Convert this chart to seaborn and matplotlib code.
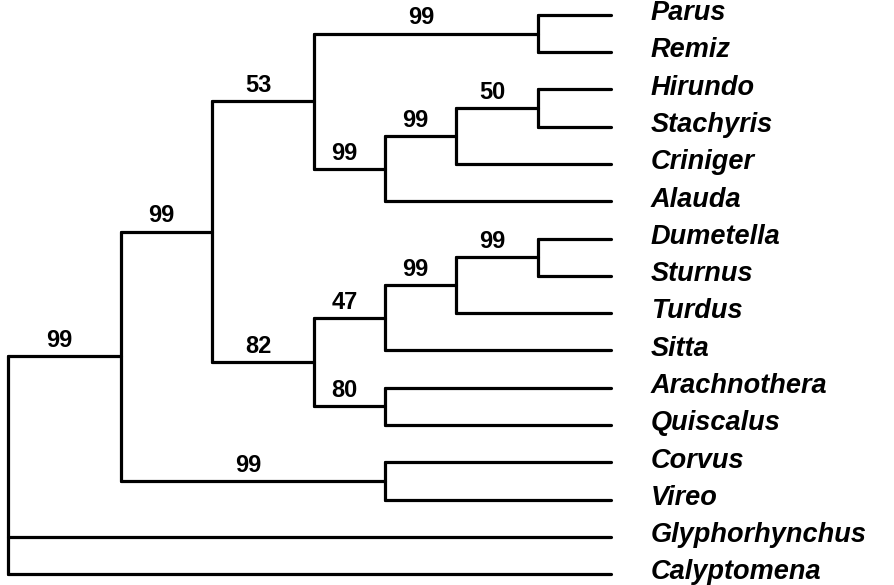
import matplotlib
matplotlib.use("Agg")
import matplotlib.pyplot as plt
import seaborn as sns
import pandas as pd

# leaf order, top to bottom
taxa = ['Parus', 'Remiz', 'Hirundo', 'Stachyris', 'Criniger', 'Alauda',
        'Dumetella', 'Sturnus', 'Turdus', 'Sitta', 'Arachnothera', 'Quiscalus',
        'Corvus', 'Vireo', 'Glyphorhynchus', 'Calyptomena']

# clades: name, children, depth from root, bootstrap support
clade_names = ['pr', 'hs', 'hsc', 'hsca', 'c53', 'ds', 'dst', 'c47', 'aq',
               'c82', 'c99a', 'cv', 'c99b', 'root']
clade_children = [['Parus', 'Remiz'], ['Hirundo', 'Stachyris'], ['hs', 'Criniger'],
                  ['hsc', 'Alauda'], ['pr', 'hsca'], ['Dumetella', 'Sturnus'],
                  ['ds', 'Turdus'], ['dst', 'Sitta'], ['Arachnothera', 'Quiscalus'],
                  ['c47', 'aq'], ['c53', 'c82'], ['Corvus', 'Vireo'],
                  ['c99a', 'cv'], ['c99b', 'Glyphorhynchus', 'Calyptomena']]
clade_depth = [530, 530, 448, 377, 306, 530, 448, 377, 377, 306, 204, 377, 113, 0]
clade_support = [99, 50, 99, 99, 53, 99, 99, 47, 80, 82, 99, 99, 99, None]
tip_depth = 603

# positions of every node
xpos = {t: tip_depth for t in taxa}
ypos = {t: i for i, t in enumerate(taxa)}
for name, kids, d in zip(clade_names, clade_children, clade_depth):
    xpos[name] = d
    ys = [ypos[k] for k in kids]
    ypos[name] = (min(ys) + max(ys)) / 2

# build line segments
rows = []
seg = 0
parent = {}
for name, kids in zip(clade_names, clade_children):
    ys = [ypos[k] for k in kids]
    rows += [(seg, xpos[name], min(ys)), (seg, xpos[name], max(ys))]
    seg += 1
    for k in kids:
        parent[k] = name
        rows += [(seg, xpos[name], ypos[k]), (seg, xpos[k], ypos[k])]
        seg += 1
segs = pd.DataFrame(rows, columns=['seg', 'x', 'y'])

sns.set_style("white")
plt.rcParams['font.family'] = ['Liberation Sans', 'DejaVu Sans']
plt.rcParams['text.color'] = 'black'

fig = plt.figure(figsize=(8.95, 5.85), dpi=100)
ax = fig.add_axes([0, 0, 1, 1])
sns.lineplot(data=segs, x='x', y='y', units='seg', estimator=None, sort=False,
             color='black', linewidth=2.3, ax=ax, legend=False)

# bootstrap values above the branch leading to each clade
for name, sup in zip(clade_names, clade_support):
    if sup is None:
        continue
    xm = (xpos[parent[name]] + xpos[name]) / 2 - 5
    ax.annotate(str(sup), (xm, ypos[name]), xytext=(0, 3), textcoords='offset points',
                ha='center', va='bottom', fontsize=17, fontweight='bold', color='black')

for t in taxa:
    ax.text(tip_depth + 40, ypos[t] + 0.14, t, ha='left', va='baseline',
            fontsize=19.5, fontweight='bold', fontstyle='italic', color='black')

ax.set_xlim(-8, 887)
ax.set_ylim(15.29, -0.40)
ax.axis('off')
fig.savefig('out.png', dpi=100)
